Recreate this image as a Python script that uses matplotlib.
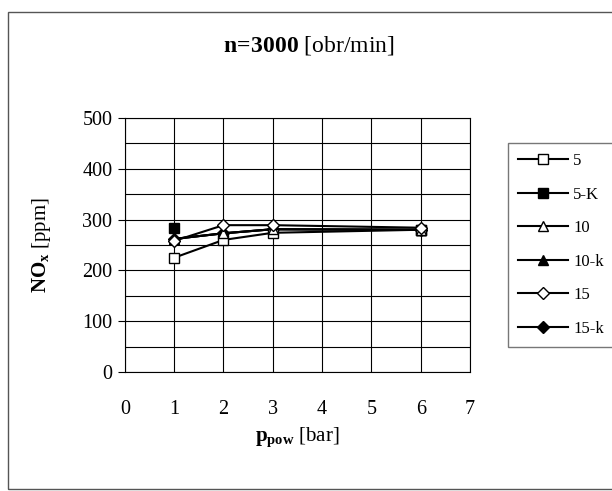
import numpy as np
import matplotlib.pyplot as plt
from matplotlib.patches import Rectangle

plt.rcParams['font.family'] = 'Liberation Serif'
plt.rcParams['mathtext.fontset'] = 'custom'
plt.rcParams['mathtext.rm'] = 'Liberation Serif'
plt.rcParams['mathtext.bf'] = 'Liberation Serif:bold'
plt.rcParams['mathtext.it'] = 'Liberation Serif:italic'

# dane
p_pow = [1, 2, 3, 6]
nox_5 = [225, 260, 274, 280]
nox_5k = [283, np.nan, np.nan, 280]
nox_10 = [262, 273, 281, 280]
nox_10k = [262, 273, 281, 280]
nox_15 = [258, 289, 289, 284]
nox_15k = [262, 273, 281, 280]

series = [
    ('5', nox_5, 's', 'white'),
    ('5-K', nox_5k, 's', 'black'),
    ('10', nox_10, '^', 'white'),
    ('10-k', nox_10k, '^', 'black'),
    ('15', nox_15, 'D', 'white'),
    ('15-k', nox_15k, 'D', 'black'),
]

fig = plt.figure(figsize=(6.12, 4.91), dpi=100)
ax = fig.add_axes([0.204, 0.242, 0.564, 0.518])

fig.patches.append(Rectangle((8/612, 0.005), 0.99, 1 - 12/491 - 0.005,
                             transform=fig.transFigure, fill=False,
                             edgecolor='#555555', lw=1))

for lab, y, m, fc in series:
    ms = 6 if m == 'D' else 7.5
    # serie z wypelnionym znacznikiem pod spodem
    z = 2 if fc == 'black' else 3
    ax.plot(p_pow, y, color='black', lw=1.5, marker=m, markersize=ms,
            markerfacecolor=fc, markeredgecolor='black',
            markeredgewidth=1, label=lab, zorder=z)

ax.set_xlim(0, 7)
ax.set_ylim(0, 500)
ax.set_xticks(range(0, 8))
ax.set_yticks(range(0, 501, 100))
ax.set_yticks(range(0, 501, 50), minor=True)
ax.grid(True, which='both', color='black', lw=0.8, zorder=1)
ax.set_axisbelow(True)
ax.tick_params(axis='both', which='major', labelsize=14.5, direction='out', length=5)
ax.tick_params(axis='y', which='minor', length=0)
ax.tick_params(axis='y', pad=4)
ax.tick_params(axis='x', length=0, pad=20)
for s in ax.spines.values():
    s.set_color('black')

ax.set_xlabel(r'$\mathbf{p_{pow}}$ [bar]', fontsize=15, labelpad=5)
ax.set_ylabel(r'$\mathbf{NO_x}$ [ppm]', fontsize=15, labelpad=21)
fig.text(0.505, 0.908, r'$\mathbf{n\!=\!3000}$ [obr/min]', fontsize=17,
         ha='center', va='center')

leg = fig.legend(loc='upper left', bbox_to_anchor=(508/612, 1 - 143/491),
                 fontsize=12, handlelength=3.0, labelspacing=1.05,
                 frameon=True, fancybox=False, edgecolor='#555555',
                 borderpad=0.6, handletextpad=0.3, borderaxespad=0)
leg.get_frame().set_linewidth(1)

fig.savefig('out.png', dpi=100)
